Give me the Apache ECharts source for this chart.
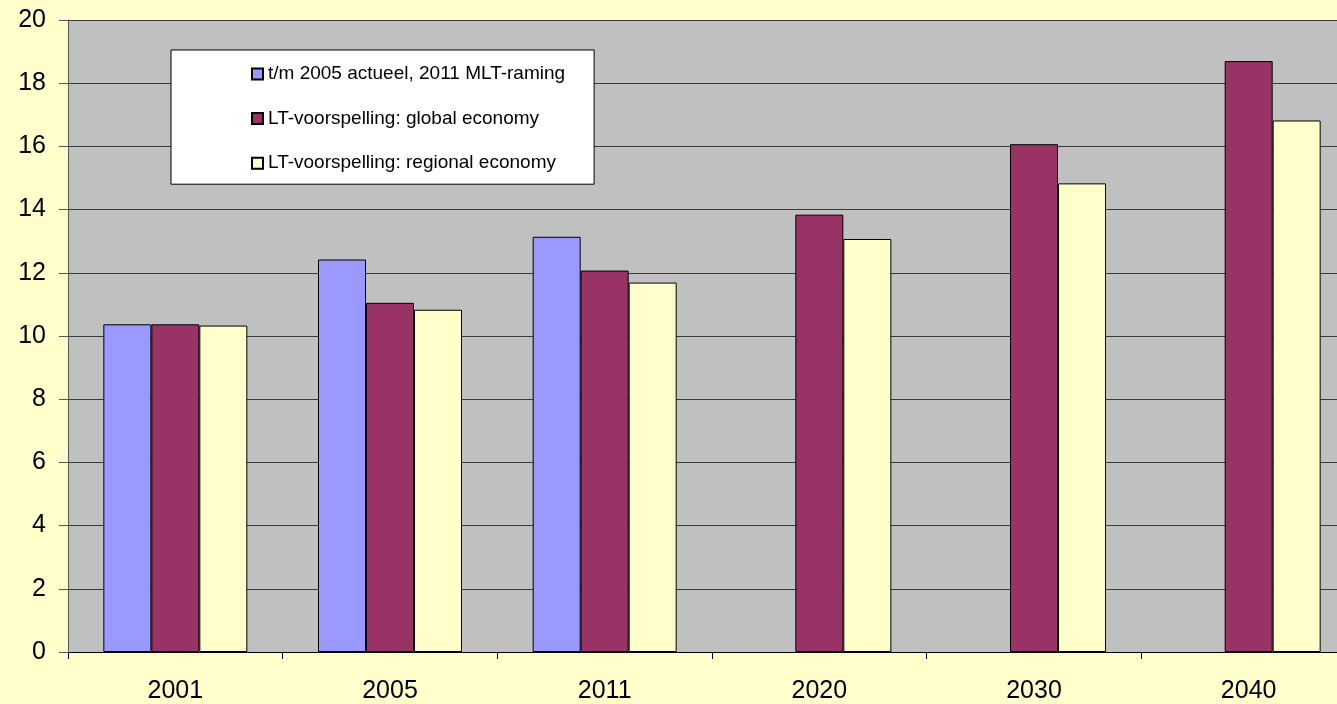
<!DOCTYPE html>
<html>
<head>
<meta charset="utf-8">
<script src="https://cdn.jsdelivr.net/npm/echarts@6/dist/echarts.min.js"></script>
<style>html,body{margin:0;padding:0;background:#FFFFCC;overflow:hidden;width:1337px;height:704px;}#c{width:1356px;height:704px;}</style>
</head>
<body>
<div id="c"></div>
<script>
var categories = ['2001', '2005', '2011', '2020', '2030', '2040'];
var seriesNames = ['t/m 2005 actueel, 2011 MLT-raming', 'LT-voorspelling: global economy', 'LT-voorspelling: regional economy'];
var actual = [10.37, 12.42, 13.14, null, null, null];
var globalEco = [10.37, 11.05, 12.07, 13.84, 16.07, 18.7];
var regionalEco = [10.33, 10.83, 11.69, 13.07, 14.83, 16.82];
var yTicks = {min: 0, max: 20, interval: 2};

var chart = echarts.init(document.getElementById('c'));
var font = "'Liberation Sans', Arial, sans-serif";
function bar(name, data, color) {
  return {
    name: name, type: 'bar', data: data, barWidth: 48, barGap: '0%',
    itemStyle: {color: color, borderColor: '#000', borderWidth: 1},
    animation: false
  };
}
chart.setOption({
  backgroundColor: '#FFFFCC',
  animation: false,
  grid: {left: 68, right: 0, top: 20, bottom: 52, show: true, backgroundColor: '#C0C0C0', borderWidth: 0},
  legend: {
    orient: 'vertical', left: 171, top: 50,
    backgroundColor: '#FFFFFF', borderColor: '#000', borderWidth: 1,
    padding: [14, 29, 11, 80],
    icon: 'rect',
    itemWidth: 11, itemHeight: 11, itemGap: 24.6,
    textStyle: {fontFamily: font, fontSize: 19, color: '#000', lineHeight: 20},
    data: seriesNames
  },
  xAxis: {
    type: 'category', data: categories,
    axisLine: {lineStyle: {color: '#000', width: 1}},
    axisTick: {show: true, length: 7, lineStyle: {color: '#000'}},
    axisLabel: {fontFamily: font, fontSize: 25, color: '#000', margin: 27}
  },
  yAxis: {
    type: 'value', min: yTicks.min, max: yTicks.max, interval: yTicks.interval,
    axisLine: {show: true, lineStyle: {color: '#555', width: 1}},
    axisTick: {show: true, length: 9, lineStyle: {color: '#555'}},
    axisLabel: {fontFamily: font, fontSize: 25, color: '#000', margin: 22},
    splitLine: {show: true, lineStyle: {color: '#3a3a3a', width: 1}}
  },
  series: [
    bar(seriesNames[0], actual, '#9999FF'),
    bar(seriesNames[1], globalEco, '#993366'),
    bar(seriesNames[2], regionalEco, '#FFFFCC')
  ]
});
</script>
</body>
</html>
